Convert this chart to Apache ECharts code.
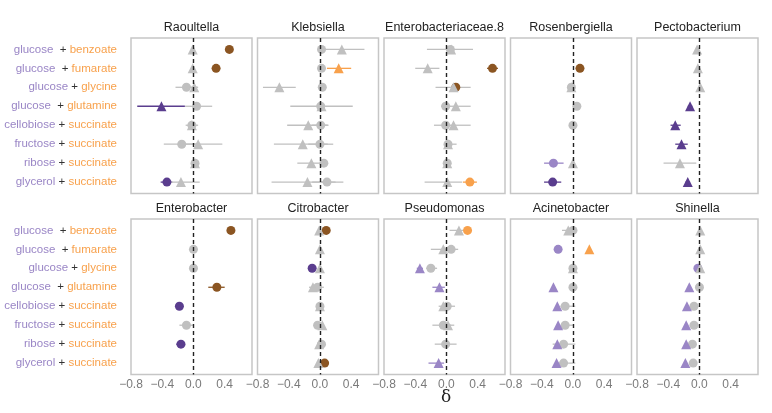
<!DOCTYPE html>
<html>
<head>
<meta charset="utf-8">
<script src="https://cdn.jsdelivr.net/npm/echarts@6/dist/echarts.min.js"></script>
<style>html,body{margin:0;padding:0;background:#fff}#main{width:772px;height:413px}</style>
</head>
<body>
<div id="main"></div>
<script>
var myChart = echarts.init(document.getElementById('main'));

// carbon source pairs (first = purple, second = orange)
var carbonA = ['glucose ', 'glucose ', 'glucose', 'glucose ', 'cellobiose', 'fructose', 'ribose', 'glycerol'];
var carbonB = ['benzoate', 'fumarate', 'glycine', 'glutamine', 'succinate', 'succinate', 'succinate', 'succinate'];
var xTicks = [-0.8, -0.4, 0.0, 0.4];
var rowIdx = [0, 1, 2, 3, 4, 5, 6, 7];

var panels = ['Raoultella', 'Klebsiella', 'Enterobacteriaceae.8', 'Rosenbergiella', 'Pectobacterium',
              'Enterobacter', 'Citrobacter', 'Pseudomonas', 'Acinetobacter', 'Shinella'];

// each entry: [mean, low, high, colour key]  n = not significant, p/P = purple light/dark, o/O = orange/brown
var raoultellaCircle = [[0.46, 0.43, 0.49, 'O'], [0.29, null, null, 'O'], [-0.09, -0.23, 0.05, 'n'], [0.04, -0.11, 0.24, 'n'],
  [-0.02, -0.05, 0.01, 'n'], [-0.15, -0.38, 0.08, 'n'], [0.02, null, null, 'n'], [-0.34, -0.42, -0.27, 'P']];
var raoultellaTri = [[-0.01, -0.03, 0.01, 'n'], [-0.01, null, null, 'n'], [0.01, -0.04, 0.06, 'n'], [-0.41, -0.72, -0.11, 'P'],
  [-0.02, -0.1, 0.06, 'n'], [0.06, -0.15, 0.37, 'n'], [0.02, 0.0, 0.04, 'n'], [-0.16, -0.3, 0.08, 'n']];

var klebsiellaCircle = [[0.02, null, null, 'n'], [0.02, null, null, 'n'], [0.03, null, null, 'n'], [0.01, -0.02, 0.04, 'n'],
  [0.01, -0.1, 0.11, 'n'], [0.0, -0.15, 0.17, 'n'], [0.05, 0.0, 0.08, 'n'], [0.09, -0.1, 0.3, 'n']];
var klebsiellaTri = [[0.28, 0.0, 0.57, 'n'], [0.24, 0.09, 0.4, 'o'], [-0.52, -0.73, -0.31, 'n'], [0.02, -0.38, 0.42, 'n'],
  [-0.15, -0.42, 0.1, 'n'], [-0.22, -0.59, 0.1, 'n'], [-0.11, -0.29, 0.05, 'n'], [-0.16, -0.62, 0.2, 'n']];

var enterobacteriaceaeCircle = [[0.05, 0.03, 0.07, 'n'], [0.59, 0.52, 0.66, 'O'], [0.12, 0.08, 0.16, 'O'], [-0.01, -0.07, 0.05, 'n'],
  [-0.01, -0.16, 0.05, 'n'], [0.02, -0.03, 0.13, 'n'], [0.01, null, null, 'n'], [0.3, 0.21, 0.39, 'o']];
var enterobacteriaceaeTri = [[0.06, -0.25, 0.34, 'n'], [-0.24, -0.4, -0.09, 'n'], [0.09, -0.14, 0.31, 'n'], [0.12, -0.05, 0.31, 'n'],
  [0.09, -0.05, 0.31, 'n'], [0.02, null, null, 'n'], [0.01, -0.02, 0.04, 'n'], [0.01, -0.28, 0.2, 'n']];

var rosenbergiellaCircle = [null, [0.09, null, null, 'O'], [-0.02, null, null, 'n'], [0.05, null, null, 'n'],
  [0.0, null, null, 'n'], null, [-0.25, -0.37, -0.12, 'p'], [-0.26, -0.37, -0.15, 'P']];
var rosenbergiellaTri = [null, null, [-0.02, null, null, 'n'], null, null, null, [0.0, null, null, 'n'], null];

var pectobacteriumCircle = [null, null, null, null, null, null, null, null];
var pectobacteriumTri = [[-0.03, null, null, 'n'], [-0.02, null, null, 'n'], [0.01, null, null, 'n'], [-0.12, -0.15, -0.09, 'P'],
  [-0.31, -0.37, -0.24, 'P'], [-0.23, -0.31, -0.15, 'P'], [-0.25, -0.46, -0.04, 'n'], [-0.15, -0.18, -0.12, 'P']];

var enterobacterCircle = [[0.48, null, null, 'O'], [0.0, null, null, 'n'], [0.0, null, null, 'n'], [0.3, 0.19, 0.4, 'O'],
  [-0.18, null, null, 'P'], [-0.09, -0.18, 0.0, 'n'], [-0.16, -0.22, -0.11, 'P'], null];
var enterobacterTri = [null, null, null, null, null, null, null, null];

var citrobacterCircle = [[0.08, null, null, 'O'], null, [-0.1, null, null, 'P'], [-0.03, -0.07, 0.05, 'n'],
  [0.0, null, null, 'n'], [-0.03, null, null, 'n'], [0.02, null, null, 'n'], [0.06, null, null, 'O']];
var citrobacterTri = [[-0.01, null, null, 'n'], [0.0, null, null, 'n'], [0.0, null, null, 'n'], [-0.09, -0.14, 0.0, 'n'],
  [0.0, null, null, 'n'], [0.03, null, null, 'n'], [-0.01, null, null, 'n'], [-0.02, null, null, 'n']];

var pseudomonasCircle = [[0.27, 0.22, 0.32, 'o'], [0.06, -0.05, 0.15, 'n'], [-0.2, -0.26, -0.12, 'n'], null,
  [0.01, -0.05, 0.11, 'n'], [-0.04, -0.18, 0.06, 'n'], [-0.01, -0.15, 0.13, 'n'], null];
var pseudomonasTri = [[0.16, 0.04, 0.28, 'n'], [-0.04, -0.2, 0.1, 'n'], [-0.34, -0.38, -0.3, 'p'], [-0.09, -0.18, -0.02, 'p'],
  [-0.04, -0.1, 0.05, 'n'], [0.02, -0.06, 0.1, 'n'], null, [-0.1, -0.23, -0.03, 'p']];

var acinetobacterCircle = [[0.0, null, null, 'n'], [-0.19, null, null, 'p'], [0.0, null, null, 'n'], [0.0, null, null, 'n'],
  [-0.1, -0.16, 0.03, 'n'], [-0.1, -0.14, 0.01, 'n'], [-0.12, -0.26, 0.03, 'n'], [-0.12, -0.2, 0.03, 'n']];
var acinetobacterTri = [[-0.06, -0.14, 0.0, 'n'], [0.21, null, null, 'o'], [0.0, null, null, 'n'], [-0.25, null, null, 'p'],
  [-0.2, null, null, 'p'], [-0.19, null, null, 'p'], [-0.2, null, null, 'p'], [-0.21, null, null, 'p']];

var shinellaCircle = [null, null, [-0.02, null, null, 'p'], [0.0, null, null, 'n'],
  [-0.07, null, null, 'n'], [-0.07, null, null, 'n'], [-0.09, null, null, 'n'], [-0.08, null, null, 'n']];
var shinellaTri = [[0.01, null, null, 'n'], [0.01, null, null, 'n'], [0.01, null, null, 'n'], [-0.13, null, null, 'p'],
  [-0.16, null, null, 'p'], [-0.17, null, null, 'p'], [-0.17, null, null, 'p'], [-0.18, null, null, 'p']];

var circles = [raoultellaCircle, klebsiellaCircle, enterobacteriaceaeCircle, rosenbergiellaCircle, pectobacteriumCircle,
  enterobacterCircle, citrobacterCircle, pseudomonasCircle, acinetobacterCircle, shinellaCircle];
var triangles = [raoultellaTri, klebsiellaTri, enterobacteriaceaeTri, rosenbergiellaTri, pectobacteriumTri,
  enterobacterTri, citrobacterTri, pseudomonasTri, acinetobacterTri, shinellaTri];

var colors = { n: '#c0c0c0', p: '#9a86c6', P: '#5a3d8e', o: '#f8a14c', O: '#8b5522' };
var FONT = '"Liberation Sans", Arial, sans-serif';
var LABEL_SIZE = 11.5;

var grids = [], xAxes = [], yAxes = [], series = [], graphics = [];

panels.forEach(function (name, i) {
  var row = Math.floor(i / 5), col = i % 5;
  var left = 131 + col * 126.5, top = row === 0 ? 38 : 219;
  grids.push({ left: left, top: top, width: 121, height: 155.5, show: true,
    borderColor: '#c6c6c6', borderWidth: 1.5, backgroundColor: 'transparent' });
  xAxes.push({
    type: 'value', gridIndex: i, min: -0.8, max: 0.75, interval: 0.4,
    axisLine: { show: false }, axisTick: { show: false }, splitLine: { show: false },
    axisLabel: {
      show: row === 1, color: '#7a7a7a', fontSize: 12, fontFamily: FONT, margin: 4,
      showMaxLabel: false,
      formatter: function (v) {
        if (!xTicks.some(function (t) { return Math.abs(t - v) < 1e-6; })) return '';
        return (v < -1e-9 ? '\u2212' : '') + Math.abs(v).toFixed(1);
      }
    }
  });
  yAxes.push({
    type: 'value', gridIndex: i, min: -0.6, max: 7.6, inverse: true,
    axisLine: { show: false }, axisTick: { show: false }, splitLine: { show: false },
    axisLabel: {
      show: col === 0, margin: 14, fontSize: LABEL_SIZE, fontFamily: FONT,
      customValues: rowIdx, showMinLabel: true, showMaxLabel: true,
      formatter: function (v) {
        var r = Math.round(v);
        return '{a|' + carbonA[r] + '} {s|+} {b|' + carbonB[r] + '}';
      },
      rich: {
        a: { color: '#9a86c6', fontSize: LABEL_SIZE, fontFamily: FONT },
        s: { color: '#333', fontSize: LABEL_SIZE, fontFamily: FONT },
        b: { color: '#f8a14c', fontSize: LABEL_SIZE, fontFamily: FONT }
      }
    }
  });

  var bars = [];
  [circles[i], triangles[i]].forEach(function (arr) {
    arr.forEach(function (d, r) {
      if (d && d[1] !== null) bars.push({ value: [d[1], d[2], r], key: d[3] });
    });
  });
  series.push({
    type: 'custom', xAxisIndex: i, yAxisIndex: i, z: 2, silent: true,
    data: bars.map(function (b) { return b.value; }),
    renderItem: function (params, api) {
      var p1 = api.coord([api.value(0), api.value(2)]);
      var p2 = api.coord([api.value(1), api.value(2)]);
      return { type: 'line', shape: { x1: p1[0], y1: p1[1], x2: p2[0], y2: p2[1] },
        style: { stroke: colors[bars[params.dataIndex].key], lineWidth: 1.3 } };
    },
    markLine: {
      silent: true, symbol: 'none', label: { show: false }, animation: false,
      lineStyle: { color: '#222', type: [4, 3], width: 1.4 },
      data: [{ xAxis: 0 }]
    }
  });

  function pts(arr) {
    var out = [];
    arr.forEach(function (d, r) {
      if (d) out.push({ value: [d[0], r], itemStyle: { color: colors[d[3]] } });
    });
    return out;
  }
  series.push({ type: 'scatter', xAxisIndex: i, yAxisIndex: i, z: 3, symbol: 'circle', symbolSize: 9,
    data: pts(circles[i]), itemStyle: { opacity: 1 } });
  series.push({ type: 'scatter', xAxisIndex: i, yAxisIndex: i, z: 4, symbol: 'triangle', symbolSize: 10,
    data: pts(triangles[i]), itemStyle: { opacity: 1 } });

  graphics.push({ type: 'text', x: left + 60.5, y: row === 0 ? 28 : 209,
    style: { text: name, align: 'center', verticalAlign: 'middle', fontSize: 12.5, fontFamily: FONT, fill: '#222' } });
});

graphics.push({ type: 'text', x: 446, y: 398,
  style: { text: '\u03b4', align: 'center', verticalAlign: 'middle', fontSize: 17, fontFamily: '"DejaVu Serif", "Liberation Serif", serif', fill: '#222' } });

var option = {
  animation: false,
  grid: grids,
  xAxis: xAxes,
  yAxis: yAxes,
  series: series,
  graphic: graphics
};
myChart.setOption(option);
</script>
</body>
</html>
